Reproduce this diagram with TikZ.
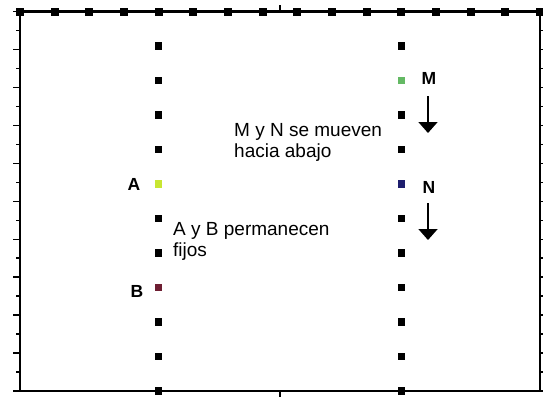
\documentclass[tikz,border=0pt]{standalone}
\usepackage{fontspec}
\setmainfont{Liberation Sans}
\usetikzlibrary{arrows.meta}
\definecolor{cA}{RGB}{200,230,50}
\definecolor{cM}{RGB}{100,185,100}
\definecolor{cN}{RGB}{30,30,110}
\definecolor{cB}{RGB}{110,30,50}
\begin{document}
\begin{tikzpicture}[x=1pt,y=-1pt,
  mk/.style={fill=black, minimum size=7.5pt, inner sep=0pt, outer sep=0pt},
  dotA/.style={mk, fill=#1},
  lbl/.style={font=\fontsize{17.5}{20}\selectfont\bfseries, inner sep=0pt},
  txt/.style={font=\fontsize{19}{21}\selectfont, align=left, inner sep=0pt, anchor=base west},
  frame/.style={line width=2.2pt},
  tick/.style={line width=1.4pt},
  downarrow/.style={line width=1.8pt, -{Triangle[width=19pt,length=11pt]}}]
\useasboundingbox (0,0) rectangle (543,400);
\fill[white] (0,0) rectangle (543,400);
% frame
\draw[frame] (20,11.5) rectangle (540,391);
% side ticks
\foreach \k in {0,...,20}{
  \pgfmathsetmacro{\yy}{11.5+18.975*\k}
  \pgfmathsetmacro{\len}{mod(\k,2)==0 ? 7 : 4.5}
  \draw[tick] (20,\yy) -- ++(-\len,0);
  \draw[tick] (540,\yy) -- ++(\len,0);
}
\draw[tick] (280,11.5) -- (280,5);
\draw[tick] (280,391) -- (280,397);
% top row markers
\foreach \k in {0,...,15}{
  \node[mk, minimum size=8pt] (t\k) at ({20+34.667*\k},11.5) {};
}
% columns
\foreach \r in {1,...,11}{
  \ifnum\r=5\relax\else\ifnum\r=8\relax\else
  \node[mk] (l\r) at (158.7,{11.5+34.5*\r}) {};
  \fi\fi
  \ifnum\r=2\relax\else\ifnum\r=5\relax\else
  \node[mk] (r\r) at (401.3,{11.5+34.5*\r}) {};
  \fi\fi
}
\node[dotA=cA] (A) at (158.7,184) {};
\node[dotA=cB] (B) at (158.7,287.5) {};
\node[dotA=cM] (M) at (401.3,80.5) {};
\node[dotA=cN] (N) at (401.3,184) {};
% labels
\node[lbl] (la) at (134,184) {A};
\node[lbl] (lb) at (137,291) {B};
\node[lbl] (lm) at (429,78) {M};
\node[lbl] (ln) at (429,187) {N};
% texts
\node[txt] (t1) at (234,157) {M y N se mueven\\hacia abajo};
\node[txt] (t2) at (173,256) {A y B permanecen\\fijos};
% arrows
\coordinate (m1) at (428,96);
\coordinate (m2) at (428,133);
\coordinate (n1) at (428,203);
\coordinate (n2) at (428,240);
\draw[downarrow] (m1) -- (m2);
\draw[downarrow] (n1) -- (n2);
\end{tikzpicture}
\end{document}
